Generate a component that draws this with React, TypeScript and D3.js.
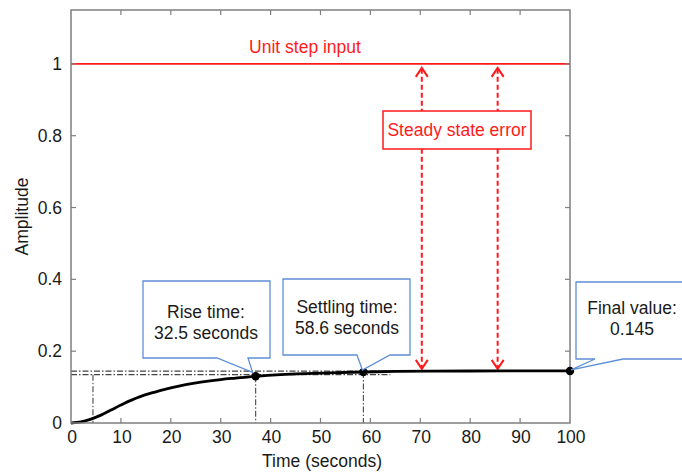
import React from 'react';
import * as d3 from 'd3';

// step response
const timeS = [0, 2, 4, 6, 8, 10, 12, 14, 16, 18, 20, 23, 26, 30, 33, 37, 42, 47, 52, 58.6, 65, 72, 80, 90, 100];
const amplitude = [0, 0.003, 0.011, 0.022, 0.036, 0.05, 0.063, 0.074, 0.083, 0.091, 0.098, 0.107, 0.114, 0.121, 0.125, 0.13, 0.1345, 0.1375, 0.1398, 0.142, 0.1435, 0.1443, 0.1448, 0.145, 0.145];

const xTicks = [0, 10, 20, 30, 40, 50, 60, 70, 80, 90, 100];
const yTicks = [0, 0.2, 0.4, 0.6, 0.8, 1];
const yTickLabels = ['0', '0.2', '0.4', '0.6', '0.8', '1'];

const stepInput = 1;
const finalValue = 0.145;
const guideLevels = [0.1445, 0.1345];
const tenPctTime = 4.4;
const markers = [
  { t: 37, v: 0.13 },
  { t: 58.6, v: 0.142 },
  { t: 100, v: 0.145 },
];
const errorArrowTimes = [70.3, 85.5];

const W = 682;
const H = 475;
const margin = { top: 10, right: 112, bottom: 52, left: 71 };
const FONT = 'Liberation Sans, Arial, sans-serif';
const FS = 17.5;
const AXIS = '#7f7f7f';
const BLUE = '#5f8fd6';
const RED = '#ff1a1a';

export default function App() {
  const x = d3.scaleLinear().domain([0, 100]).range([margin.left, W - margin.right]);
  const y = d3.scaleLinear().domain([0, 1.15]).range([H - margin.bottom, margin.top]);
  const x0 = x(0), x1 = x(100), y0 = y(0), yTop = y(1.15);

  const line = d3.line<number>()
    .x((_, i) => x(timeS[i]))
    .y((d) => y(d))
    .curve(d3.curveCatmullRom.alpha(0.5));

  const dashDot = '6,2,1.5,2';

  // callouts: box in pixels, tail base on bottom edge, tip at the marker
  const callouts = [
    { box: [143, 281, 270, 358], base: [217, 248], m: markers[0], tip: [-3, -4], lines: ['Rise time:', '32.5 seconds'], cx: 206, by: 318 },
    { box: [283, 279, 410, 355], base: [357, 390], m: markers[1], tip: [-1, -2], lines: ['Settling time:', '58.6 seconds'], cx: 347, by: 313 },
    { box: [576, 282, 700, 359], base: [595, 623], m: markers[2], tip: [1, -1], lines: ['Final value:', '0.145'], cx: 632, by: 314 },
  ];

  const chevron = (cx: number, cy: number, dir: number) =>
    `M${cx - 6},${cy + dir * 9} L${cx},${cy} L${cx + 6},${cy + dir * 9}`;

  return (
    <div style={{ position: 'absolute', left: 0, top: 0 }}>
      <svg width={W} height={H} style={{ display: 'block', background: '#fff' }} fontFamily={FONT}>
        {/* guide lines */}
        {guideLevels.map((g, i) => (
          <line key={i} x1={x0} x2={x(64)} y1={y(g)} y2={y(g)} stroke="#444" strokeWidth={1.3} strokeDasharray={dashDot} />
        ))}
        <line x1={x(tenPctTime)} x2={x(tenPctTime)} y1={y(guideLevels[1])} y2={y0} stroke="#555" strokeWidth={1.2} strokeDasharray={dashDot} />
        {markers.slice(0, 2).map((m, i) => (
          <line key={i} x1={x(m.t)} x2={x(m.t)} y1={y(m.v)} y2={y0} stroke="#555" strokeWidth={1.2} strokeDasharray={dashDot} />
        ))}

        {/* unit step input */}
        <line x1={x0} x2={x1} y1={y(stepInput)} y2={y(stepInput)} stroke={RED} strokeWidth={1.6} />
        <text x={305} y={53} textAnchor="middle" fontSize={FS} fill={RED}>Unit step input</text>

        {/* steady state error arrows */}
        {errorArrowTimes.map((t, i) => {
          const cx = x(t);
          const ta = y(stepInput) + 4;
          const tb = y(finalValue) - 2;
          return (
            <g key={i} stroke={RED} strokeWidth={2} fill="none">
              <line x1={cx} x2={cx} y1={ta + 1} y2={tb - 1} strokeDasharray="5,3" />
              <path d={chevron(cx, ta, 1)} />
              <path d={chevron(cx, tb, -1)} />
            </g>
          );
        })}
        <rect x={383} y={111} width={148} height={38} fill="#fff" stroke={RED} strokeWidth={1.5} />
        <text x={457} y={136} textAnchor="middle" fontSize={FS} fill={RED}>Steady state error</text>

        {/* response */}
        <path d={line(amplitude) || ''} fill="none" stroke="#000" strokeWidth={2.8} />

        {/* axes box */}
        <rect x={x0} y={yTop} width={x1 - x0} height={y0 - yTop} fill="none" stroke={AXIS} strokeWidth={1.5} />
        {xTicks.slice(1, -1).map((t) => (
          <g key={t} stroke={AXIS} strokeWidth={1.2}>
            <line x1={x(t)} x2={x(t)} y1={y0} y2={y0 - 5} />
            <line x1={x(t)} x2={x(t)} y1={yTop} y2={yTop + 5} />
          </g>
        ))}
        {yTicks.slice(1).map((t) => (
          <g key={t} stroke={AXIS} strokeWidth={1.2}>
            <line x1={x0} x2={x0 + 5} y1={y(t)} y2={y(t)} />
            <line x1={x1} x2={x1 - 5} y1={y(t)} y2={y(t)} />
          </g>
        ))}
        {xTicks.map((t) => (
          <text key={t} x={x(t) + 1} y={443} textAnchor="middle" fontSize={FS} fill="#1a1a1a">{t}</text>
        ))}
        {yTicks.map((t, i) => (
          <text key={t} x={62} y={y(t) + 6} textAnchor="end" fontSize={FS} fill="#1a1a1a">{yTickLabels[i]}</text>
        ))}
        <text x={322} y={467} textAnchor="middle" fontSize={FS} fill="#1a1a1a">Time (seconds)</text>
        <text transform={`translate(28,${(y0 + yTop) / 2}) rotate(-90)`} textAnchor="middle" fontSize={FS} fill="#1a1a1a">Amplitude</text>

        {/* markers */}
        {markers.map((m, i) => (
          <circle key={i} cx={x(m.t)} cy={y(m.v)} r={4.2} fill="#000" />
        ))}

        {/* callouts */}
        {callouts.map((c, i) => {
          const [l, t, r, b] = c.box;
          const tx = x(c.m.t) + c.tip[0];
          const ty = y(c.m.v) + c.tip[1];
          const d = `M${l},${t} H${r} V${b} H${c.base[1]} L${tx},${ty} L${c.base[0]},${b} H${l} Z`;
          return (
            <g key={i}>
              <path d={d} fill="#fff" stroke={BLUE} strokeWidth={1.3} />
              {c.lines.map((s, j) => (
                <text key={j} x={c.cx} y={c.by + j * 21} textAnchor="middle" fontSize={FS} fill="#1a1a1a">{s}</text>
              ))}
            </g>
          );
        })}
      </svg>
    </div>
  );
}
